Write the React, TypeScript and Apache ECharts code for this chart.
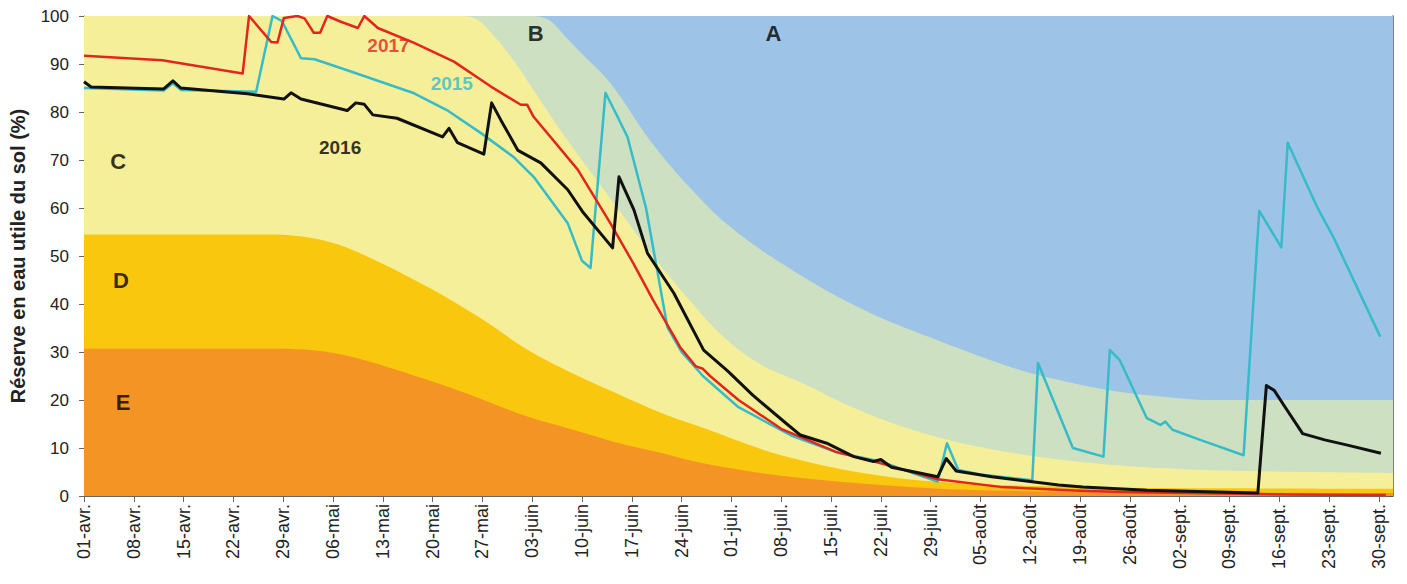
import React, { useEffect, useRef } from "react";
import * as echarts from "echarts";

// Tick labels (one every 7 days from 01-avr.)
const tickLabels = [
  "01-avr.", "08-avr.", "15-avr.", "22-avr.", "29-avr.", "06-mai", "13-mai", "20-mai", "27-mai",
  "03-juin", "10-juin", "17-juin", "24-juin", "01-juil.", "08-juil.", "15-juil.", "22-juil.", "29-juil.",
  "05-août", "12-août", "19-août", "26-août", "02-sept.", "09-sept.", "16-sept.", "23-sept.", "30-sept.",
];
const tickDays = tickLabels.map((_, i) => i * 7);

// Zone boundaries [day since 01-avr., % RU]
const zoneA: [number, number][] = [[0, 100], [184, 100]];
const zoneB: [number, number][] = [
  [0, 100], [63, 100], [65.3, 99.2], [67.5, 96], [69.4, 93], [74, 86], [79.6, 74], [85, 64.5], [91.3, 55.5],
  [100.7, 46], [110, 38.5], [119, 33], [130, 27], [137.5, 24], [145, 21.8], [152, 20.6], [158, 20], [184, 20],
];
const zoneC: [number, number][] = [
  [0, 100], [53, 100], [55.3, 99.2], [57.8, 95.5], [60.5, 90.5], [63, 85], [68, 74], [74, 62], [80, 50],
  [85, 41], [90, 33], [95, 27.5], [101, 23.5], [108, 18.5], [115, 14.5], [122, 11.5], [128, 9.6], [137, 7.6],
  [147, 6.2], [160, 5.3], [184, 4.8],
];
const zoneD: [number, number][] = [
  [0, 54.5], [26, 54.5], [31, 54], [37, 51.7], [48, 43.8], [56, 36.8], [62, 30.8], [68.5, 25.7],
  [75, 21.3], [81, 17.4], [87, 14.2], [98, 8.5], [112, 4.2], [124, 2.6], [140, 1.9], [160, 1.6], [184, 1.5],
];
const zoneE: [number, number][] = [
  [0, 30.7], [26, 30.7], [31, 30.5], [37, 29.2], [48, 24.3], [56, 20.1], [62, 16.7], [68.5, 13.9],
  [75, 11.1], [81, 9], [87, 6.8], [98, 4.2], [112, 2.3], [124, 1.3], [140, 0.9], [160, 0.7], [184, 0.6],
];

// Series: soil water reserve (%)
const y2015: [number, number][] = [
  [0, 85], [11.2, 84.5], [12.5, 86], [13.6, 84.6], [24.2, 84.2], [26.5, 100], [27.8, 99], [30.5, 91.2],
  [32.4, 91], [37, 88.7], [41.7, 86.3], [46.4, 83.9], [51, 80.4], [55.8, 75.6], [60.4, 70.6], [63.2, 66.5],
  [68, 56.8], [70, 49], [71.2, 47.5], [73.3, 84], [75, 79], [76.4, 74.8], [79, 60], [82, 35.2], [84, 30],
  [87, 25], [92, 18.5], [99.4, 12.6], [106, 9], [112, 7.2], [117, 4.5], [120, 3], [121.3, 11], [122.9, 5.4],
  [126, 4.5], [130, 3.8], [133.3, 3.3], [134.1, 27.7], [139, 10], [143.3, 8.2], [144.2, 30.4], [145.6, 28.3],
  [149.4, 16.2], [151.3, 14.8], [152, 15.5], [153, 13.8], [156.9, 11.7], [163, 8.5], [165.2, 59.4],
  [168.3, 51.8], [169.2, 73.6], [173.3, 60.3], [175.6, 54], [182.2, 33.2],
];
const y2016: [number, number][] = [
  [0, 86.3], [1, 85.2], [11.2, 84.8], [12.5, 86.5], [13.6, 85], [23, 83.8], [28.1, 82.7], [29.1, 84],
  [30.5, 82.7], [37, 80.3], [38.2, 81.9], [39.4, 81.6], [40.6, 79.4], [44, 78.7], [50.4, 74.8], [51.3, 76.6],
  [52.5, 73.6], [56.2, 71.2], [57.3, 81.9], [58.6, 78.3], [61, 72], [64.2, 69.4], [68, 63.8], [70.2, 59],
  [74.3, 51.7], [75.2, 66.5], [77.3, 59.6], [79.2, 50.6], [82.9, 42.3], [87.1, 30.4], [90.5, 26], [94, 21],
  [98.8, 15], [100.7, 12.7], [104.4, 11], [108.2, 8.2], [111, 7.2], [112, 7.6], [113.5, 6], [120, 4],
  [121.2, 7.8], [122.6, 5.2], [127.6, 4], [133, 3], [137, 2.3], [140.4, 1.9], [149.4, 1.2], [158, 0.9],
  [165, 0.6], [166.2, 23], [167.3, 22], [168.8, 18.6], [171.3, 13], [174.4, 11.7], [177.6, 10.6], [182.3, 8.9],
];
const y2017: [number, number][] = [
  [0, 91.7], [11, 90.8], [22.3, 88], [23.2, 100], [26.3, 94.6], [27.2, 94.5], [28.1, 99.6], [30, 100],
  [31, 99.5], [32.3, 96.5], [33.2, 96.5], [34.2, 100], [36.1, 98.8], [38.5, 97.5], [39.4, 100], [41.3, 97.5],
  [46.4, 94.4], [52, 90.5], [57.2, 85.3], [61.4, 81.5], [62.3, 81.5], [63.2, 79], [69.4, 68], [74, 56.8],
  [77.2, 48.5], [80, 40.8], [83.8, 31], [86, 27], [87, 26.5], [88, 25], [92, 20], [98, 14], [105.7, 9.2],
  [112, 6.8], [120, 3.5], [128.8, 1.9], [140, 1.1], [147.5, 0.8], [160, 0.5], [170, 0.3], [183, 0.2],
];

// Annotations: text, day, value
const annotTexts = ["A", "B", "C", "D", "E", "2017", "2015", "2016"];
const annotDays = [96.9, 63.5, 4.8, 5.2, 5.5, 42.8, 51.7, 36];
const annotValues = [96.3, 96.3, 69.6, 44.8, 19.4, 93.8, 86, 72.7];

const COLORS = {
  A: "#9dc3e6",
  B: "#cde0c2",
  C: "#f6ef9a",
  D: "#f9c80e",
  E: "#f39424",
  s2015: "#35bcc8",
  s2016: "#111111",
  s2017: "#e3261d",
};

const FONT = "Liberation Sans, Arial, sans-serif";

export default function App() {
  const ref = useRef<HTMLDivElement>(null);
  useEffect(() => {
    if (!ref.current) return;
    const chart = echarts.init(ref.current, undefined, { renderer: "svg" });
    const area = (name: string, data: [number, number][], color: string, z: number) => ({
      name,
      type: "line",
      data,
      smooth: 0.35,
      showSymbol: false,
      symbol: "none",
      silent: true,
      z,
      lineStyle: { width: 0, opacity: 0 },
      areaStyle: { color, opacity: 1 },
    });
    const line = (name: string, data: [number, number][], color: string, width: number, z: number) => ({
      name,
      type: "line",
      data,
      showSymbol: false,
      symbol: "none",
      silent: true,
      z,
      lineStyle: { width, color, join: "round" },
    });
    const annotColors = ["#000", "#000", "#000", "#000", "#000", COLORS.s2017, COLORS.s2015, "#000"];
    const annotSizes = [22, 22, 22, 22, 22, 19, 19, 19];
    chart.setOption({
      animation: false,
      backgroundColor: "#ffffff",
      grid: { left: 83, right: 14, top: 16, bottom: 88, containLabel: false },
      xAxis: {
        type: "value",
        min: 0,
        max: 184,
        splitLine: { show: false },
        axisLine: { show: true, lineStyle: { color: "#666", width: 1 } },
        axisTick: { show: true, customValues: tickDays, length: 6, lineStyle: { color: "#666" } },
        axisLabel: {
          customValues: tickDays,
          rotate: 90,
          margin: 8,
          fontSize: 18,
          color: "#222",
          fontFamily: FONT,
          formatter: (v: number) => tickLabels[Math.round(v / 7)] ?? "",
        },
      },
      yAxis: [
        {
          type: "value",
          min: 0,
          max: 100,
          interval: 10,
          name: "Réserve en eau utile du sol (%)",
          nameLocation: "middle",
          nameRotate: 90,
          nameGap: 56,
          nameTextStyle: { fontSize: 20, fontWeight: "bold", color: "#222", fontFamily: FONT },
          splitLine: { show: false },
          axisLine: { show: true, lineStyle: { color: "#666", width: 1 } },
          axisTick: { show: true, length: 5, lineStyle: { color: "#666" } },
          axisLabel: { fontSize: 17, margin: 15, color: "#222", fontFamily: FONT },
        },
        {
          type: "value",
          position: "right",
          min: 0,
          max: 100,
          interval: 10,
          splitLine: { show: false },
          axisLine: { show: true, lineStyle: { color: "#555", width: 1.5 } },
          axisTick: { show: true, inside: true, length: 5, lineStyle: { color: "#555" } },
          axisLabel: { show: false },
        },
      ],
      series: [
        area("A", zoneA, COLORS.A, 1),
        area("B", zoneB, COLORS.B, 2),
        area("C", zoneC, COLORS.C, 3),
        area("D", zoneD, COLORS.D, 4),
        area("E", zoneE, COLORS.E, 5),
        line("2015", y2015, COLORS.s2015, 2.5, 10),
        line("2017", y2017, COLORS.s2017, 2.5, 11),
        line("2016", y2016, COLORS.s2016, 3, 12),
        {
          type: "scatter",
          symbolSize: 0,
          silent: true,
          z: 20,
          data: annotTexts.map((t, i) => ({
            value: [annotDays[i], annotValues[i]],
            label: {
              show: true,
              position: "inside",
              formatter: t,
              color: annotColors[i],
              fontSize: annotSizes[i],
              fontWeight: "bold",
              fontFamily: FONT,
            },
          })),
        },
      ],
    });
    return () => chart.dispose();
  }, []);
  return (
    <div
      ref={ref}
      style={{ position: "fixed", left: 0, top: 0, width: 1407, height: 584, background: "#fff" }}
    />
  );
}
